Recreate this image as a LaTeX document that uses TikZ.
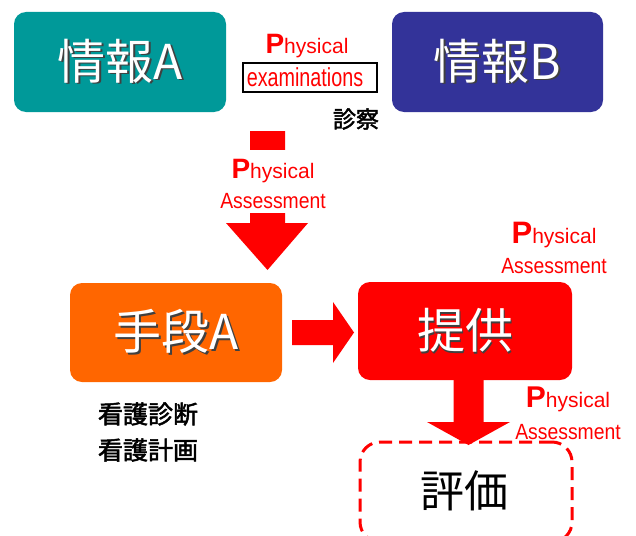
\documentclass[tikz,border=0pt]{standalone}
\usepackage{fontspec}
\setmainfont{Liberation Sans}
\newfontfamily\jp{Noto Sans CJK JP}
\newfontfamily\jpb[FakeBold=2]{Noto Sans CJK JP}
\definecolor{tealA}{HTML}{009999}
\definecolor{navyB}{HTML}{333399}
\definecolor{orangeA}{HTML}{FF6600}
\definecolor{redP}{HTML}{FF0000}
\newcommand{\physword}[1]{{\fontsize{#1}{#1}\selectfont\bfseries P}{\fontsize{21}{24}\selectfont hysical}}
\newcommand{\shadowed}[1]{\makebox[0pt][l]{\kern1.6pt\raisebox{-1.6pt}{\textcolor{black!75}{#1}}}\textcolor{white}{#1}}
\tikzset{
  bigbox/.style={rectangle, rounded corners=12pt, inner sep=0pt, minimum height=99pt},
  boxtext/.style={inner sep=0pt, font=\jp\fontsize{48}{50}\selectfont},
  redlbl/.style={text=redP, inner sep=0pt, anchor=base},
  assess/.style={redlbl, font=\fontsize{22}{24}\selectfont, xscale=0.88},
  blocktext/.style={font=\jpb\fontsize{25}{27}\selectfont, inner sep=0pt},
  blockarrow/.style={fill=redP, draw=none}
}
\begin{document}
\begin{tikzpicture}[x=1pt, y=-1pt]
\useasboundingbox (0,0) rectangle (636,535);
% boxes
\node[bigbox, fill=tealA, minimum width=212pt, minimum height=100pt] (infoA) at (120,62) {};
\node[boxtext] (infoAt) at (infoA) {\shadowed{情報A}};
\node[bigbox, fill=navyB, minimum width=211pt, minimum height=100pt] (infoB) at (497.5,62) {};
\node[boxtext] (infoBt) at (infoB) {\shadowed{情報B}};
\node[bigbox, fill=orangeA, minimum width=212pt] (meansA) at (176,332.5) {};
\node[boxtext] (meansAt) at (meansA) {\shadowed{手段A}};
\node[bigbox, fill=redP, minimum width=214pt, minimum height=98pt] (provide) at (465,331) {};
\node[boxtext] (providet) at (provide) {\shadowed{提供}};
\node[bigbox, draw=redP, line width=3pt, dash pattern=on 13pt off 7pt, rounded corners=20pt, minimum width=212pt, minimum height=100pt] (evalbox) at (466,492) {};
\node[boxtext, font=\jp\fontsize{44}{46}\selectfont, text=black] (evalt) at (464,491) {評価};
% physical examinations
\node[redlbl] (pe1) at (307,53) {\physword{28}};
\node[draw=black, line width=1.5pt, minimum width=134pt, minimum height=29pt, inner sep=0pt] (exbox) at (310,77.5) {};
\node[redlbl, font=\fontsize{26}{28}\selectfont, xscale=0.76] (ex) at (305,86) {examinations};
\node[blocktext, font=\jpb\fontsize{23}{25}\selectfont] (shinsatsu) at (356,119) {診察};
% arrow 1 (down, to means A)
\fill[blockarrow] (250,131) -- (285,131) -- (285,223) -- (308,223) -- (267.5,270) -- (226,223) -- (250,223) -- cycle;
\node[redlbl, fill=white, text height=28pt, text depth=12pt] (pa1) at (273,178) {\physword{28}};
\node[assess, fill=white, text height=18pt, text depth=5pt] (as1) at (273,208) {Assessment};
% arrow 2 (right)
\fill[blockarrow] (292,320) -- (333,320) -- (333,302) -- (354,332.5) -- (333,363) -- (333,345) -- (292,345) -- cycle;
% arrow 3 (down, to evaluation)
\fill[blockarrow] (453.5,380) -- (483.5,380) -- (483.5,422) -- (510,422) -- (468.5,445) -- (427,422) -- (453.5,422) -- cycle;
% labels
\node[redlbl] (pa2) at (554,243) {\physword{31}};
\node[assess] (as2) at (554,273) {Assessment};
\node[redlbl] (pa3) at (568,407) {\physword{30}};
\node[assess] (as3) at (568,439) {Assessment};
\node[blocktext] (kango1) at (148,414) {看護診断};
\node[blocktext] (kango2) at (148,450) {看護計画};
\end{tikzpicture}
\end{document}
